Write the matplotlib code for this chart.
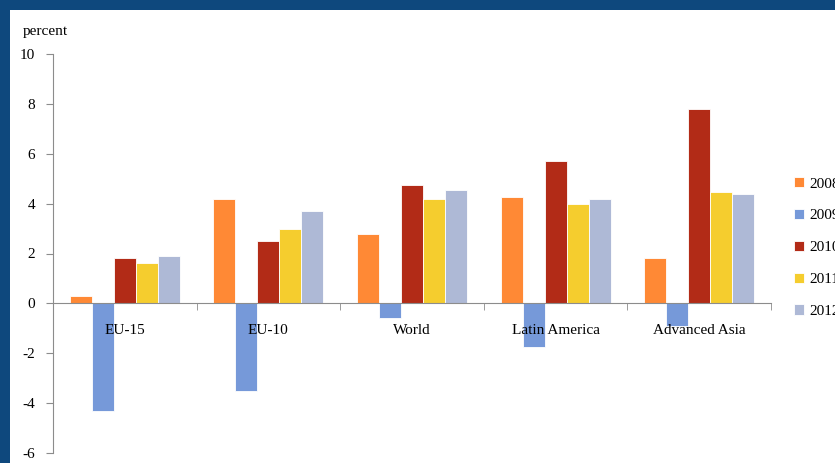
import matplotlib
matplotlib.use("Agg")
import matplotlib.pyplot as plt
from matplotlib.patches import Rectangle
import numpy as np

# real GDP growth, percent
regions = ["EU-15", "EU-10", "World", "Latin America", "Advanced Asia"]
years = ["2008", "2009", "2010", "2011", "2012"]
g2008 = [0.3, 4.2, 2.8, 4.25, 1.8]
g2009 = [-4.3, -3.5, -0.6, -1.75, -0.9]
g2010 = [1.8, 2.5, 4.75, 5.7, 7.8]
g2011 = [1.6, 3.0, 4.2, 4.0, 4.45]
g2012 = [1.9, 3.7, 4.55, 4.2, 4.4]
colors = ["#FF8935", "#7699D9", "#B22B17", "#F5CD2E", "#AEB9D6"]

plt.rcParams["font.family"] = ["Liberation Serif", "DejaVu Serif"]
plt.rcParams["font.size"] = 11
plt.rcParams["axes.unicode_minus"] = False

fig = plt.figure(figsize=(8.35, 4.63), dpi=100, facecolor="#0E487D")
# white page inside the dark frame
fig.patches.append(Rectangle((10 / 835, 0), 1, 1 - 10 / 463, transform=fig.transFigure,
                             facecolor="white", edgecolor="none", zorder=-5))

ax = fig.add_axes([53 / 835, 1 - 453 / 463, (771 - 53) / 835, (453 - 54) / 463])
ax.set_facecolor("none")

x = np.arange(len(regions))
w = 0.153
series = [g2008, g2009, g2010, g2011, g2012]
for i, vals in enumerate(series):
    ax.bar(x + (i - 2) * w, vals, w, color=colors[i], edgecolor="white",
           linewidth=0.6, label=years[i], zorder=2)

ax.set_xlim(-0.5, len(regions) - 0.5)
ax.set_ylim(-6, 10)
ax.set_yticks(range(-6, 11, 2))

# category names sit on top of the negative bars
ax.set_axisbelow(False)
ax.xaxis.set_zorder(3)

ax.spines["top"].set_visible(False)
ax.spines["right"].set_visible(False)
ax.spines["left"].set_color("#8C8C8C")
ax.spines["bottom"].set_color("#8C8C8C")
ax.spines["bottom"].set_position(("data", 0))
ax.spines["bottom"].set_zorder(3)

ax.set_xticks(x)
ax.set_xticklabels(regions)
ax.set_xticks(np.arange(-0.5, len(regions)), minor=True)
ax.tick_params(axis="x", which="major", length=0, pad=14.5)
ax.tick_params(axis="x", which="minor", length=5, color="#8C8C8C", direction="out")
ax.tick_params(axis="y", length=5, color="#8C8C8C", pad=8)

fig.text(23 / 835, 1 - 31 / 463, "percent", ha="left", va="center")

fig.legend(loc="center left", bbox_to_anchor=(794 / 835, 1 - 247.5 / 463),
           frameon=False, borderpad=0, borderaxespad=0, handlelength=0.65,
           handleheight=0.65, handletextpad=0.35, labelspacing=1.2)

fig.savefig("out.png", dpi=100, facecolor=fig.get_facecolor())
